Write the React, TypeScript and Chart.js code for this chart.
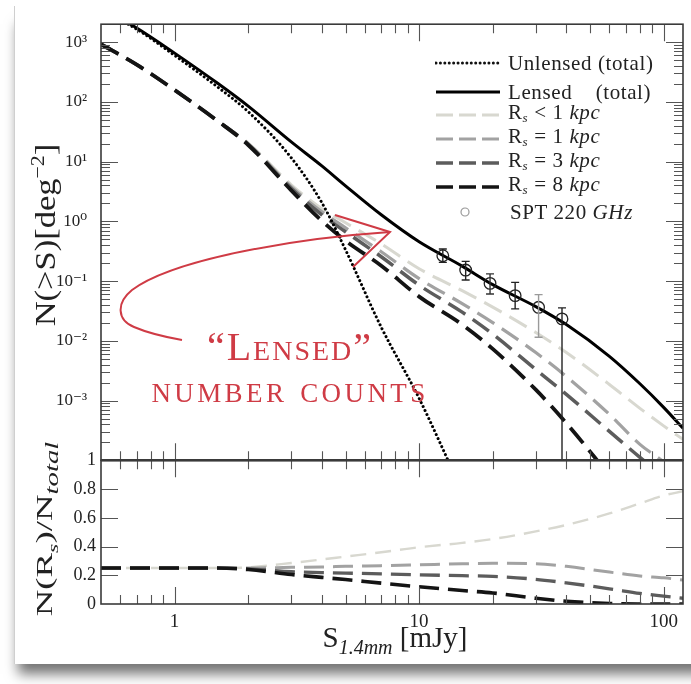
import React, { useEffect, useRef } from "react";
import { Chart, registerables } from "chart.js";

Chart.register(...registerables);

// Flux density grid (mJy) shared by every model curve
const fluxGrid = [0.5, 0.7, 1, 1.5, 2, 3, 4, 5, 7, 10, 15, 20, 30, 40, 60, 80, 100, 120];

// Cumulative counts N(>S) [deg^-2]
const unlensedTotal = [3500, 1650, 600, 177, 68.6, 11.6, 2.06, 0.335, 0.0169, 0.00109, 0.00003, null, null, null, null, null, null, null];
const lensedTotal = [3700, 1730, 656, 205, 85, 21.4, 8.5, 3.94, 1.29, 0.456, 0.178, 0.0873, 0.0374, 0.0187, 0.0055, 0.00191, 0.00077, 0.000343];
const countsRsLt1 = [925, 420, 158, 48, 20.5, 4.1, 1.63, 0.95, 0.42, 0.161, 0.0692, 0.0367, 0.01377, 0.00637, 0.00186, 0.00074, 0.000377, 0.000224];
const countsRs1 = [925, 420, 158, 48, 20, 3.8, 1.45, 0.78, 0.31, 0.11, 0.042, 0.0202, 0.00637, 0.00253, 0.000587, 0.000185, 0.000093, 0.000046];
const countsRs3 = [925, 420, 158, 48, 19.5, 3.55, 1.29, 0.67, 0.256, 0.0855, 0.0302, 0.01295, 0.00331, 0.00127, 0.000305, 0.000112, 0.000054, null];
const countsRs8 = [925, 420, 158, 48, 19, 3.3, 1.02, 0.474, 0.181, 0.055, 0.0187, 0.00733, 0.00152, 0.000419, 0.000056, null, null, null];

// Fractional contribution N(Rs)/N_total
const ratioRsLt1 = [0.25, 0.25, 0.25, 0.25, 0.255, 0.285, 0.31, 0.33, 0.36, 0.395, 0.425, 0.452, 0.505, 0.55, 0.63, 0.7, 0.755, 0.785];
const ratioRs1 = [0.25, 0.25, 0.25, 0.25, 0.25, 0.255, 0.258, 0.262, 0.267, 0.273, 0.28, 0.283, 0.28, 0.262, 0.222, 0.195, 0.182, 0.167];
const ratioRs3 = [0.25, 0.25, 0.25, 0.25, 0.245, 0.225, 0.219, 0.215, 0.21, 0.203, 0.197, 0.192, 0.172, 0.147, 0.106, 0.074, 0.055, 0.04];
const ratioRs8 = [0.25, 0.25, 0.25, 0.25, 0.24, 0.205, 0.185, 0.17, 0.145, 0.12, 0.094, 0.077, 0.04, 0.019, 0.003, 0, 0, 0];

// SPT 220 GHz counts with error bars
const sptFlux = [12.5, 15.5, 19.5, 24.7, 30.8, 38.4];
const sptCounts = [0.266, 0.153, 0.0916, 0.0571, 0.0364, 0.0233];
const sptUpper = [0.344, 0.214, 0.132, 0.0953, 0.0594, 0.0356];
const sptLower = [0.206, 0.1045, 0.061, 0.0343, 0.0115, 1e-6];
const sptBarColors = ["#222", "#222", "#333", "#222", "#9a9a9a", "#222"];

// Axis tick values
const fluxLabelTicks = [1, 10, 100];
const countsLabelExponents = [-3, -2, -1, 0, 1, 2, 3];
const ratioTicks = [0, 0.2, 0.4, 0.6, 0.8, 1];

const SUP: Record<string, string> = { "-": "\u207B", "0": "\u2070", "1": "\u00B9", "2": "\u00B2", "3": "\u00B3" };
const supText = (k: number) => String(k).split("").map((c) => SUP[c]).join("");

const series = (ys: (number | null)[]) =>
  fluxGrid.map((x, i) => ({ x, y: ys[i] })).filter((p) => p.y !== null);

const SERIF = "'Liberation Serif', 'DejaVu Serif', serif";
const RED = "#cf3b45";
const DASH = [20, 9];

const COLORS = {
  lt1: "#d8d8d0",
  rs1: "#a2a2a2",
  rs3: "#5c5c5c",
  rs8: "#141414",
};

// Frame, inward tick marks and SPT error bars
const framePlugin = {
  id: "frameTicks",
  afterDatasetsDraw(chart: any) {
    const { ctx } = chart;
    const x = chart.scales.x;
    const yc = chart.scales.yCounts;

    ctx.save();
    ctx.beginPath();
    ctx.rect(x.left, yc.top, x.right - x.left, yc.bottom - yc.top);
    ctx.clip();
    ctx.lineWidth = 1.4;
    sptFlux.forEach((f, i) => {
      const px = x.getPixelForValue(f);
      const top = yc.getPixelForValue(sptUpper[i]);
      const bot = yc.getPixelForValue(sptLower[i]);
      ctx.strokeStyle = sptBarColors[i];
      ctx.beginPath();
      ctx.moveTo(px, top);
      ctx.lineTo(px, bot);
      ctx.moveTo(px - 4, top);
      ctx.lineTo(px + 4, top);
      ctx.moveTo(px - 4, bot);
      ctx.lineTo(px + 4, bot);
      ctx.stroke();
    });
    ctx.restore();
  },
  afterDraw(chart: any) {
    const { ctx } = chart;
    const x = chart.scales.x;
    const yc = chart.scales.yCounts;
    const yr = chart.scales.yRatio;
    const MAJ = 17;
    const MIN = 9;
    ctx.save();
    ctx.strokeStyle = "#555";
    ctx.lineWidth = 1.1;

    // x ticks on every horizontal edge
    const xVals: { v: number; major: boolean }[] = [];
    for (let e = -1; e <= 2; e++) {
      for (let m = 1; m <= 9; m++) {
        const v = m * Math.pow(10, e);
        if (v > 0.5 && v < 120) xVals.push({ v, major: m === 1 });
      }
    }
    const edges = [
      { y: yc.top, dir: 1 },
      { y: yc.bottom, dir: -1 },
      { y: yr.top, dir: 1 },
      { y: yr.bottom, dir: -1 },
    ];
    ctx.beginPath();
    xVals.forEach(({ v, major }) => {
      const px = Math.round(x.getPixelForValue(v)) + 0.5;
      const len = major ? MAJ : MIN;
      edges.forEach(({ y, dir }) => {
        ctx.moveTo(px, y);
        ctx.lineTo(px, y + dir * len);
      });
    });

    // log ticks on the counts panel
    for (let e = -4; e <= 3; e++) {
      for (let m = 1; m <= 9; m++) {
        const v = m * Math.pow(10, e);
        if (v <= 1e-4 || v > 2000) continue;
        const py = Math.round(yc.getPixelForValue(v)) + 0.5;
        const len = m === 1 ? MAJ : MIN;
        ctx.moveTo(x.left, py);
        ctx.lineTo(x.left + len, py);
        ctx.moveTo(x.right, py);
        ctx.lineTo(x.right - len, py);
      }
    }

    // ratio panel ticks
    ratioTicks.slice(1, -1).forEach((v) => {
      const py = Math.round(yr.getPixelForValue(v)) + 0.5;
      ctx.moveTo(x.left, py);
      ctx.lineTo(x.left + MAJ, py);
      ctx.moveTo(x.right, py);
      ctx.lineTo(x.right - MAJ, py);
    });
    ctx.stroke();

    // panel frames
    ctx.strokeStyle = "#3a3a3a";
    ctx.lineWidth = 1.6;
    ctx.strokeRect(x.left, yc.top, x.right - x.left, yc.bottom - yc.top);
    ctx.strokeRect(x.left, yr.top, x.right - x.left, yr.bottom - yr.top);
    ctx.lineWidth = 2.4;
    ctx.beginPath();
    ctx.moveTo(x.left, yc.bottom);
    ctx.lineTo(x.right, yc.bottom);
    ctx.stroke();
    ctx.restore();
  },
};

const lineStyle = (color: string, width: number, dash: number[]) => ({
  borderColor: color,
  borderWidth: width,
  borderDash: dash,
  pointRadius: 0,
  fill: false,
  cubicInterpolationMode: "monotone" as const,
});

export default function App() {
  const canvasRef = useRef<HTMLCanvasElement>(null);

  useEffect(() => {
    if (!canvasRef.current) return;
    const chart = new Chart(canvasRef.current, {
      type: "line",
      data: {
        datasets: [
          {
            label: "SPT 220 GHz",
            data: sptFlux.map((x, i) => ({ x, y: sptCounts[i] })),
            yAxisID: "yCounts",
            showLine: false,
            pointRadius: 5.8,
            pointBorderWidth: 1.3,
            pointBorderColor: "#222",
            pointBackgroundColor: "rgba(0,0,0,0)",
            order: 0,
          },
          { label: "Lensed (total)", data: series(lensedTotal), yAxisID: "yCounts", ...lineStyle("#000", 3, []), order: 1 },
          {
            label: "Unlensed (total)",
            data: series(unlensedTotal),
            yAxisID: "yCounts",
            ...lineStyle("#000", 3, [0.01, 4.4]),
            borderCapStyle: "round",
            order: 2,
          },
          { label: "Rs = 8 kpc", data: series(countsRs8), yAxisID: "yCounts", ...lineStyle(COLORS.rs8, 3.8, DASH), order: 3 },
          { label: "Rs = 3 kpc", data: series(countsRs3), yAxisID: "yCounts", ...lineStyle(COLORS.rs3, 3.5, DASH), order: 4 },
          { label: "Rs = 1 kpc", data: series(countsRs1), yAxisID: "yCounts", ...lineStyle(COLORS.rs1, 3.2, DASH), order: 5 },
          { label: "Rs < 1 kpc", data: series(countsRsLt1), yAxisID: "yCounts", ...lineStyle(COLORS.lt1, 3, DASH), order: 6 },
          { label: "ratio Rs = 8 kpc", data: series(ratioRs8), yAxisID: "yRatio", ...lineStyle(COLORS.rs8, 3.6, DASH), order: 7 },
          { label: "ratio Rs = 3 kpc", data: series(ratioRs3), yAxisID: "yRatio", ...lineStyle(COLORS.rs3, 3.3, DASH), order: 8 },
          { label: "ratio Rs = 1 kpc", data: series(ratioRs1), yAxisID: "yRatio", ...lineStyle(COLORS.rs1, 3, DASH), order: 9 },
          { label: "ratio Rs < 1 kpc", data: series(ratioRsLt1), yAxisID: "yRatio", ...lineStyle(COLORS.lt1, 2.4, [16, 9]), order: 10 },
        ],
      },
      options: {
        responsive: false,
        animation: false,
        events: [],
        layout: { padding: { left: 0, right: 8, top: 23, bottom: 0 } },
        plugins: { legend: { display: false }, tooltip: { enabled: false } },
        scales: {
          x: {
            type: "logarithmic",
            position: "bottom",
            min: 0.5,
            max: 120,
            grid: { display: false, drawTicks: false },
            border: { display: false },
            afterBuildTicks: (s: any) => {
              s.ticks = fluxLabelTicks.map((v) => ({ value: v }));
            },
            afterFit: (s: any) => {
              s.height = 80;
            },
            ticks: {
              autoSkip: false,
              maxRotation: 0,
              padding: 7,
              color: "#222",
              font: { family: SERIF, size: 19 },
              callback: (v: any) => String(v),
            },
          },
          yRatio: {
            type: "linear",
            position: "left",
            stack: "panels",
            stackWeight: 144,
            min: 0,
            max: 1,
            grid: { display: false, drawTicks: false },
            border: { display: false },
            afterBuildTicks: (s: any) => {
              s.ticks = ratioTicks.map((v) => ({ value: v }));
            },
            afterFit: (s: any) => {
              s.width = 101;
            },
            ticks: {
              autoSkip: false,
              padding: 5,
              color: "#222",
              font: { family: SERIF, size: 18 },
              callback: (v: any) => (v === 0 ? "0" : v === 1 ? "1" : Number(v).toFixed(1)),
            },
          },
          yCounts: {
            type: "logarithmic",
            position: "left",
            stack: "panels",
            stackWeight: 437,
            min: 1e-4,
            max: 2000,
            grid: { display: false, drawTicks: false },
            border: { display: false },
            afterBuildTicks: (s: any) => {
              s.ticks = countsLabelExponents.map((k) => ({ value: Math.pow(10, k) }));
            },
            afterFit: (s: any) => {
              s.width = 101;
            },
            ticks: {
              autoSkip: false,
              padding: 14,
              color: "#222",
              font: { family: SERIF, size: 17 },
              callback: (v: any) => "10" + supText(Math.round(Math.log10(Number(v)))),
            },
          },
        },
      },
      plugins: [framePlugin],
    } as any);
    return () => chart.destroy();
  }, []);

  const sub = (t: string) => <sub style={{ fontSize: 13, verticalAlign: -3 }}><i>{t}</i></sub>;
  const legendRows = [
    { y: 63, color: "#111", dash: "0.01 4.4", cap: "round", width: 3, text: <>Unlensed (total)</> },
    { y: 92, color: "#000", dash: "", cap: "butt", width: 3, text: <>Lensed &nbsp;&nbsp; (total)</> },
    { y: 115, color: COLORS.lt1, dash: "17 6", cap: "butt", width: 3, text: <>R{sub("s")} &lt; 1 <i>kpc</i></> },
    { y: 139, color: COLORS.rs1, dash: "17 6", cap: "butt", width: 3, text: <>R{sub("s")} = 1 <i>kpc</i></> },
    { y: 163, color: COLORS.rs3, dash: "17 6", cap: "butt", width: 3.4, text: <>R{sub("s")} = 3 <i>kpc</i></> },
    { y: 187, color: COLORS.rs8, dash: "17 6", cap: "butt", width: 3.6, text: <>R{sub("s")} = 8 <i>kpc</i></> },
  ];
  const legendFont = `21px ${SERIF}`;

  return (
    <div style={{ position: "fixed", left: 0, top: 0, width: 691, height: 684, background: "#fff", overflow: "hidden" }}>
      {/* card edge and shadow */}
      <div
        style={{
          position: "absolute",
          left: 14,
          top: 6,
          width: 720,
          height: 658,
          borderLeft: "1.5px solid #cfcfcf",
          boxShadow: "0 14px 12px -4px rgba(0,0,0,0.55)",
          background: "#fff",
        }}
      />
      <canvas ref={canvasRef} width={691} height={684} style={{ position: "absolute", left: 0, top: 0 }} />

      {/* legend */}
      {legendRows.map((r, i) => (
        <div key={i} style={{ position: "absolute", left: 435, top: r.y - 12, height: 24, display: "flex", alignItems: "center" }}>
          <svg width={66} height={10} style={{ display: "block" }}>
            <line x1={1} y1={5} x2={65} y2={5} stroke={r.color} strokeWidth={r.width} strokeDasharray={r.dash || undefined} strokeLinecap={r.cap as any} />
          </svg>
          <span style={{ marginLeft: 7, font: legendFont, letterSpacing: 0.6, color: "#222", whiteSpace: "pre", lineHeight: "24px" }}>{r.text}</span>
        </div>
      ))}
      <div style={{ position: "absolute", left: 435, top: 200, height: 24, display: "flex", alignItems: "center" }}>
        <svg width={66} height={12} style={{ display: "block" }}>
          <circle cx={30} cy={6} r={4} fill="none" stroke="#999" strokeWidth={1.2} />
        </svg>
        <span style={{ marginLeft: 9, font: legendFont, letterSpacing: 0.6, color: "#222", lineHeight: "24px" }}>
          SPT 220 <i>GHz</i>
        </span>
      </div>

      {/* annotation */}
      <svg width={691} height={684} style={{ position: "absolute", left: 0, top: 0, pointerEvents: "none" }}>
        <path
          d="M 390 232 C 300 238, 175 258, 132 290 C 116 303, 117 320, 134 327 C 148 333, 165 337, 182 340"
          fill="none"
          stroke={RED}
          strokeWidth={2}
        />
        <path d="M 335 215 L 390 232 L 353 267" fill="none" stroke={RED} strokeWidth={2} />
      </svg>
      <div
        style={{
          position: "absolute",
          left: 140,
          top: 327,
          width: 300,
          textAlign: "center",
          color: RED,
          fontFamily: SERIF,
          fontVariant: "small-caps",
          lineHeight: 1,
        }}
      >
        <div style={{ fontSize: 40, letterSpacing: 2, marginLeft: 0 }}>“Lensed”</div>
        <div style={{ fontSize: 38, letterSpacing: 3.4, marginTop: 3 }}>number counts</div>
      </div>

      {/* axis titles */}
      <div
        style={{
          position: "absolute",
          left: 44,
          top: 235,
          transform: "translate(-50%, -50%) rotate(-90deg) scaleX(1.15)",
          font: `30px ${SERIF}`,
          color: "#222",
          whiteSpace: "nowrap",
          lineHeight: 1,
        }}
      >
        N(&gt;S)[deg<sup style={{ fontSize: 19 }}>−2</sup>]
      </div>
      <div
        style={{
          position: "absolute",
          left: 47,
          top: 529,
          transform: "translate(-50%, -50%) rotate(-90deg) scaleX(1.6)",
          font: `23px ${SERIF}`,
          color: "#222",
          whiteSpace: "nowrap",
          lineHeight: 1,
        }}
      >
        N(R<sub style={{ fontSize: 15 }}><i>s</i></sub>)/N<sub style={{ fontSize: 18 }}><i>total</i></sub>
      </div>
      <div
        style={{
          position: "absolute",
          left: 395,
          top: 640,
          transform: "translate(-50%, -50%)",
          font: `29px ${SERIF}`,
          color: "#222",
          whiteSpace: "nowrap",
          lineHeight: 1,
        }}
      >
        S<sub style={{ fontSize: 20 }}><i>1.4mm</i></sub> [mJy]
      </div>
    </div>
  );
}
